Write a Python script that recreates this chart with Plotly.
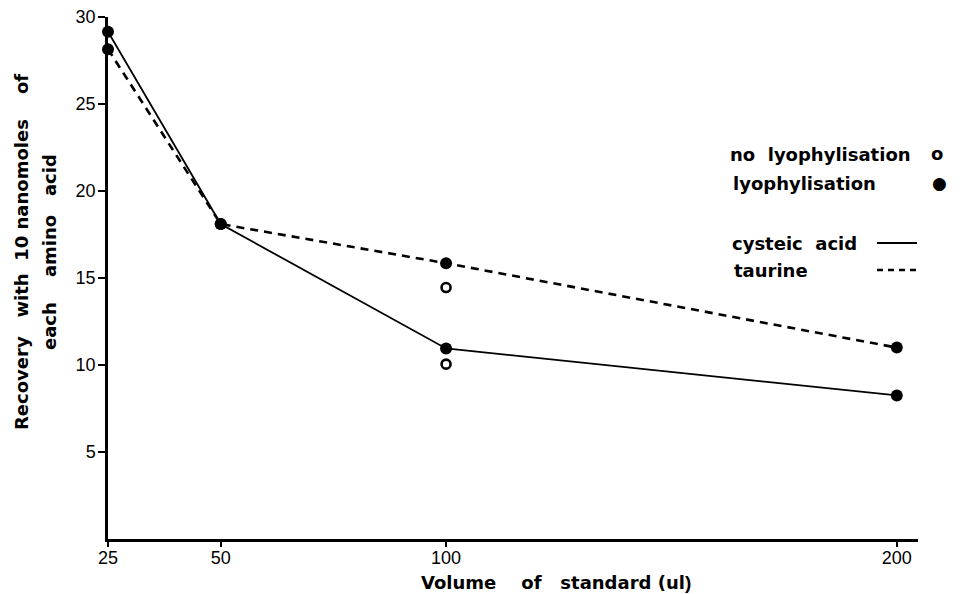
import plotly.graph_objects as go

# Data
volume = [25, 50, 100, 200]
cysteic_lyo = [29.15, 18.1, 10.95, 8.25]
taurine_lyo = [28.15, 18.1, 15.85, 11.0]
volume_nolyo = [100]
cysteic_nolyo = [10.05]
taurine_nolyo = [14.45]
x_ticks = [25, 50, 100, 200]
y_ticks = [5, 10, 15, 20, 25, 30]

W, H = 960, 594
PL, PR, PT, PB = 108, 918, 17, 539          # plot area in window pixels
L, R, T, B = PL, W - PR, PT, H - PB
pw, ph = PR - PL, PB - PT

def px(xp):
    return (xp - PL) / pw

def py(yp):
    return (PB - yp) / ph

TFONT = "Liberation Sans, Arial, sans-serif"
BFONT = "DejaVu Sans, sans-serif"
nb = "\u00a0"

fig = go.Figure()
fig.add_trace(go.Scatter(x=volume, y=cysteic_lyo, mode="lines+markers",
                         line=dict(color="black", width=1.8),
                         marker=dict(color="black", size=12), cliponaxis=False,
                         showlegend=False))
fig.add_trace(go.Scatter(x=volume, y=taurine_lyo, mode="lines+markers",
                         line=dict(color="black", width=2.6, dash="8px,6px"),
                         marker=dict(color="black", size=12), cliponaxis=False,
                         showlegend=False))
fig.add_trace(go.Scatter(x=volume_nolyo * 2, y=cysteic_nolyo + taurine_nolyo, mode="markers",
                         marker=dict(symbol="circle-open", color="black", size=9,
                                     line=dict(width=2.6, color="black")),
                         cliponaxis=False, showlegend=False))

axis_common = dict(showline=True, linecolor="black", linewidth=2.5, ticks="outside",
                   tickwidth=2, tickcolor="black", showgrid=False, zeroline=False,
                   automargin=False, ticklabeloverflow="allow",
                   tickfont=dict(family=TFONT, size=18, color="black"))
fig.update_xaxes(range=[25, 204.7], tickvals=x_ticks, ticktext=[str(v) for v in x_ticks],
                 ticklen=5, ticklabelstandoff=-4, **axis_common)
fig.update_yaxes(range=[0, 30], tickvals=y_ticks, ticktext=[str(v) for v in y_ticks],
                 ticklen=7, ticklabelstandoff=-1, **axis_common)

bold = dict(family=BFONT, size=18, color="black", weight="bold")
ann = []
ann.append(dict(text="<b>Volume" + nb * 4 + "of" + nb * 3 + "standard" + nb + "(ul</b>",
                x=px(419), y=py(582), xref="paper", yref="paper", showarrow=False,
                xanchor="left", yanchor="middle", font=bold))
ann.append(dict(text="<b>)</b>", x=px(683), y=py(582), xref="paper", yref="paper",
                showarrow=False, xanchor="left", yanchor="middle",
                font=dict(family="Liberation Sans", size=19, color="black")))
ann.append(dict(text="Recovery" + nb * 3 + "with" + nb * 2 + "10" + nb + "nanomoles" + nb * 4 + "of",
                x=px(21), y=py(252), xref="paper", yref="paper", showarrow=False,
                textangle=-90, xanchor="center", yanchor="middle", font=bold))
ann.append(dict(text="each" + nb * 4 + "amino" + nb * 3 + "acid",
                x=px(49), y=py(252), xref="paper", yref="paper", showarrow=False,
                textangle=-90, xanchor="center", yanchor="middle", font=bold))
legend_rows = [("no" + nb * 2 + "lyophylisation", 728, 154),
               ("lyophylisation", 731, 183),
               ("cysteic" + nb * 2 + "acid", 730, 243),
               ("taurine", 732, 270)]
for txt, xx, yy in legend_rows:
    ann.append(dict(text=txt, x=px(xx), y=py(yy), xref="paper", yref="paper",
                    showarrow=False, xanchor="left", yanchor="middle", font=bold))
ann.append(dict(text="o", x=px(937), y=py(153), xref="paper", yref="paper",
                showarrow=False, xanchor="center", yanchor="middle", font=bold))
ann.append(dict(text="●", x=px(939), y=py(183), xref="paper", yref="paper",
                showarrow=False, xanchor="center", yanchor="middle",
                font=dict(family="DejaVu Sans", size=17, color="black")))

shapes = [
    dict(type="line", xref="paper", yref="paper", x0=px(877), x1=px(917), y0=py(243), y1=py(243),
         line=dict(color="black", width=2)),
    dict(type="line", xref="paper", yref="paper", x0=px(877), x1=px(921), y0=py(270), y1=py(270),
         line=dict(color="black", width=2.4, dash="6px,5px")),
]

fig.update_layout(width=W, height=H, margin=dict(l=L, r=R, t=T, b=B, autoexpand=False),
                  plot_bgcolor="white", paper_bgcolor="white",
                  annotations=ann, shapes=shapes, showlegend=False)

fig.write_html("out.html", config={"displayModeBar": False},
               post_script="document.body.style.margin='0';document.body.style.overflow='hidden';")
